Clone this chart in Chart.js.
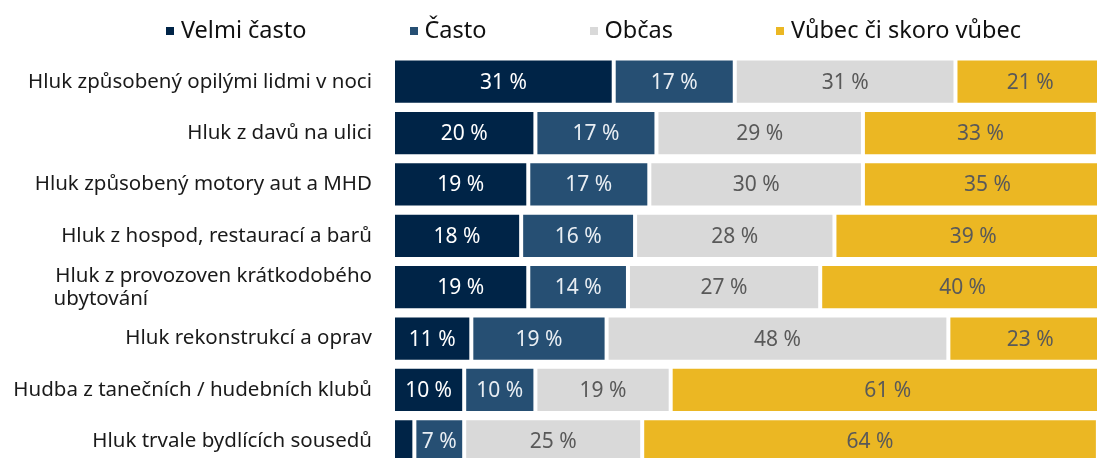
<!DOCTYPE html>
<html>
<head>
<meta charset="utf-8">
<script src="https://cdn.jsdelivr.net/npm/chart.js@4.4.1/dist/chart.umd.min.js"></script>
<style>
  html, body { margin: 0; padding: 0; background: #fff; overflow: hidden; width: 1097px; height: 458px; }
  #legend { position: absolute; left: 0; top: 0; width: 1097px; height: 58px; box-sizing: border-box;
    padding-left: 90px; display: flex; justify-content: center; align-items: center; gap: 103px;
    font-family: "Noto Sans", sans-serif; font-size: 23.5px; color: #111; }
  #legend span.item { display: flex; align-items: center; white-space: nowrap; }
  #legend span.box { width: 8px; height: 8px; margin-right: 7px; display: inline-block; margin-top: 3px; }
  #wrap { position: absolute; left: 0; top: 0; }
</style>
</head>
<body>
<div id="wrap"><canvas id="myChart" width="1110" height="467"></canvas></div>
<div id="legend"></div>
<script>
var categories = [
    'Hluk způsobený opilými lidmi v noci',
    'Hluk z davů na ulici',
    'Hluk způsobený motory aut a MHD',
    'Hluk z hospod, restaurací a barů',
    ['Hluk z provozoven krátkodobého', 'ubytování' + ' '.repeat(42)],
    'Hluk rekonstrukcí a oprav',
    'Hudba z tanečních / hudebních klubů',
    'Hluk trvale bydlících sousedů'
];
var seriesNames = ['Velmi často', 'Často', 'Občas', 'Vůbec či skoro vůbec'];
var velmiCasto = [31, 20, 19, 18, 19, 11, 10, 3];
var casto = [17, 17, 17, 16, 14, 19, 10, 7];
var obcas = [31, 29, 30, 28, 27, 48, 19, 25];
var vubec = [21, 33, 35, 39, 40, 23, 61, 64];

var colors = ['#002447', '#264F73', '#D9D9D9', '#EBB723'];
var labelColors = ['#ffffff', '#e9eef3', '#595959', '#595959'];

function makeSet(i, data) {
    return {
        label: seriesNames[i],
        data: data,
        backgroundColor: colors[i],
        borderColor: '#ffffff',
        borderWidth: 2,
        borderSkipped: false,
        categoryPercentage: 0.9,
        barPercentage: 1
    };
}

// value labels in the middle of each segment
var barLabels = {
    id: 'barLabels',
    afterDatasetsDraw: function (chart) {
        var ctx = chart.ctx;
        ctx.save();
        ctx.font = '21px "Noto Sans", sans-serif';
        ctx.textAlign = 'center';
        ctx.textBaseline = 'middle';
        chart.data.datasets.forEach(function (ds, i) {
            var meta = chart.getDatasetMeta(i);
            meta.data.forEach(function (bar, j) {
                var v = ds.data[j];
                if (v < 5) return;
                ctx.fillStyle = labelColors[i];
                ctx.fillText(v + ' %', (bar.x + bar.base) / 2, bar.y + 1);
            });
        });
        ctx.restore();
    }
};

var ctx1 = document.getElementById('myChart').getContext('2d');
var myChart = new Chart(ctx1, {
    type: 'bar',
    data: {
        labels: categories,
        datasets: [makeSet(0, velmiCasto), makeSet(1, casto), makeSet(2, obcas), makeSet(3, vubec)]
    },
    options: {
        indexAxis: 'y',
        responsive: false,
        animation: false,
        layout: { padding: { top: 56, right: 5, left: 0, bottom: 0 } },
        scales: {
            x: {
                stacked: true,
                display: false,
                min: 0,
                max: 100
            },
            y: {
                stacked: true,
                grid: { display: false, drawTicks: false },
                border: { display: false },
                ticks: {
                    padding: 21,
                    color: '#1a1a1a',
                    font: { family: '"Noto Sans", sans-serif', size: 20.5, lineHeight: 1.12 }
                },
                afterFit: function (scale) {
                    scale.width = 393;
                    scale.paddingTop = 0;
                    scale.paddingBottom = 0;
                }
            }
        },
        plugins: {
            legend: { display: false },
            tooltip: { enabled: false }
        }
    },
    plugins: [barLabels]
});

var legend = document.getElementById('legend');
seriesNames.forEach(function (name, i) {
    var item = document.createElement('span');
    item.className = 'item';
    var box = document.createElement('span');
    box.className = 'box';
    box.style.background = colors[i];
    item.appendChild(box);
    item.appendChild(document.createTextNode(name));
    legend.appendChild(item);
});
</script>
</body>
</html>
